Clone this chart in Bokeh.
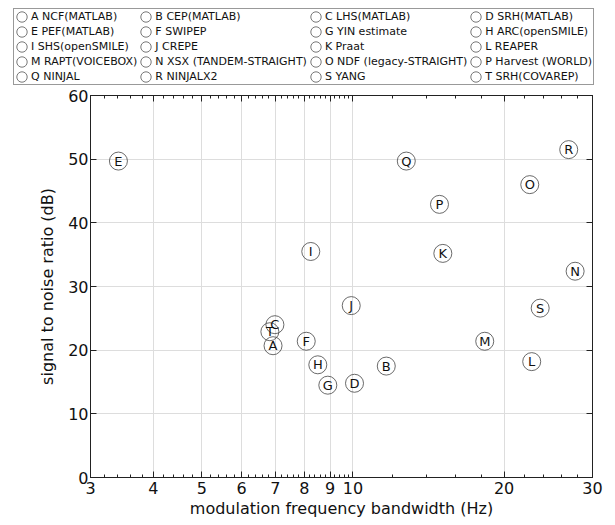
from bokeh.plotting import figure
from bokeh.models import (Legend, LegendItem, LogAxis, LinearAxis, FixedTicker,
                          ColumnDataSource)
from bokeh.embed import file_html
from bokeh.resources import INLINE
from bokeh.core.properties import value

letters = ["A", "B", "C", "D", "E", "F", "G", "H", "I", "J",
           "K", "L", "M", "N", "O", "P", "Q", "R", "S", "T"]
methods = ["NCF(MATLAB)", "CEP(MATLAB)", "LHS(MATLAB)", "SRH(MATLAB)",
           "PEF(MATLAB)", "SWIPEP", "YIN estimate", "ARC(openSMILE)",
           "SHS(openSMILE)", "CREPE", "Praat", "REAPER",
           "RAPT(VOICEBOX)", "XSX (TANDEM-STRAIGHT)", "NDF (legacy-STRAIGHT)", "Harvest (WORLD)",
           "NINJAL", "NINJALX2", "YANG", "SRH(COVAREP)"]
bandwidth = [6.93, 11.65, 6.99, 10.07, 3.41, 8.07, 8.91, 8.51, 8.24, 9.92,
             15.1, 22.7, 18.3, 27.7, 22.5, 14.87, 12.77, 26.9, 23.6, 6.83]
snr = [20.7, 17.5, 24.0, 14.8, 49.7, 21.4, 14.5, 17.7, 35.5, 27.0,
       35.2, 18.2, 21.4, 32.4, 46.0, 42.9, 49.7, 51.5, 26.6, 22.9]

x_ticks = [3, 4, 5, 6, 7, 8, 9, 10, 20, 30]
x_minor = [3.2, 3.4, 3.6, 3.8, 4.2, 4.4, 4.6, 4.8, 5.2, 5.4, 5.6, 5.8,
           6.2, 6.4, 6.6, 6.8, 7.2, 7.4, 7.6, 7.8, 8.2, 8.4, 8.6, 8.8,
           9.2, 9.4, 9.6, 9.8, 12, 14, 16, 18, 22, 24, 26, 28]
y_ticks = [0, 10, 20, 30, 40, 50, 60]

FONT = "DejaVu Sans"
AX = "#222222"
LEFT, FW, FH, TOTAL_W = 90, 502, 382, 613
LEG_H = 88

src = ColumnDataSource(dict(x=bandwidth, y=snr, letter=letters))

# ---------------- main scatter plot ----------------
p = figure(frame_width=FW, frame_height=FH, x_axis_type="log",
           x_range=(3, 30), y_range=(0, 60),
           output_backend="svg", toolbar_location=None,
           min_border_left=LEFT, min_border_right=TOTAL_W - LEFT - FW,
           min_border_top=7, min_border_bottom=45)

p.outline_line_color = AX
p.background_fill_color = "white"

for ax in (p.xaxis[0], p.yaxis[0]):
    ax.axis_line_color = AX
    ax.major_tick_line_color = AX
    ax.minor_tick_line_color = AX
    ax.major_tick_in = 6
    ax.major_tick_out = 0
    ax.minor_tick_in = 3
    ax.minor_tick_out = 0
    ax.major_label_text_font = FONT
    ax.major_label_text_font_size = "16px"
    ax.major_label_text_color = "#111111"
    ax.axis_label_text_font = FONT
    ax.axis_label_text_font_size = "16px"
    ax.axis_label_text_font_style = "normal"
    ax.axis_label_text_color = "#111111"

p.xaxis.ticker = FixedTicker(ticks=x_ticks, minor_ticks=x_minor)
p.xaxis.major_label_overrides = {t: str(t) for t in x_ticks}
p.xaxis.axis_label = "modulation frequency bandwidth (Hz)"
p.xaxis.major_label_standoff = 4
p.xaxis.axis_label_standoff = 2

p.yaxis.ticker = FixedTicker(ticks=y_ticks, minor_ticks=[])
p.yaxis.axis_label = "signal to noise ratio (dB)"
p.yaxis.major_label_standoff = 2
p.yaxis.axis_label_standoff = 8

p.xgrid.ticker = FixedTicker(ticks=x_ticks)
p.ygrid.ticker = FixedTicker(ticks=y_ticks)
p.grid.grid_line_color = "#dddddd"
p.grid.grid_line_width = 1

right = LinearAxis(ticker=FixedTicker(ticks=y_ticks, minor_ticks=[]))
top = LogAxis(ticker=FixedTicker(ticks=x_ticks, minor_ticks=x_minor))
for ax, tk in ((right, y_ticks), (top, x_ticks)):
    ax.axis_line_color = AX
    ax.major_tick_line_color = AX
    ax.minor_tick_line_color = AX
    ax.major_tick_in = 6
    ax.major_tick_out = 0
    ax.minor_tick_in = 3
    ax.minor_tick_out = 0
    ax.major_label_overrides = {t: "" for t in tk}
    ax.major_label_standoff = 0
p.add_layout(right, "right")
p.add_layout(top, "above")

p.scatter("x", "y", source=src, size=18, marker="circle",
          fill_color="white", fill_alpha=0.0, line_color="#444444", line_width=0.8)
p.text("x", "y", text="letter", source=src, text_align="center",
       text_baseline="middle", text_font=value(FONT), text_font_size="13px",
       text_color="#111111")

# ---------------- legend strip (separate root, above the plot) ----------------
lg = figure(width=TOTAL_W, height=LEG_H, x_range=(0, 1), y_range=(0, 1),
            x_axis_location=None, y_axis_location=None,
            output_backend="svg", toolbar_location=None,
            min_border_left=0, min_border_right=0, min_border_top=0,
            min_border_bottom=0)
lg.outline_line_color = None
lg.grid.visible = False
# same data; it lies outside this strip's ranges, so only the legend swatches show
lr = lg.ellipse("x", "y", source=src, width=10, height=10,
                width_units="screen", height_units="screen",
                fill_color=None, line_color="#555555", line_width=0.8)

NCOL, NROW = 4, 5
order = [row * NCOL + col for col in range(NCOL) for row in range(NROW)]
items = [LegendItem(label=f"{letters[i]} {methods[i]}", renderers=[lr], index=i)
         for i in order]
legend = Legend(items=items, orientation="vertical", nrows=NROW,
                location=(13, 3), border_line_color="#333333",
                border_line_width=1,
                label_text_font=FONT, label_text_font_size="11px",
                label_text_color="#111111",
                label_height=13, glyph_height=13, glyph_width=13,
                spacing=2, padding=1, label_standoff=3, margin=0)
lg.add_layout(legend, "center")

open("out.html", "w").write(file_html([lg, p], INLINE))
